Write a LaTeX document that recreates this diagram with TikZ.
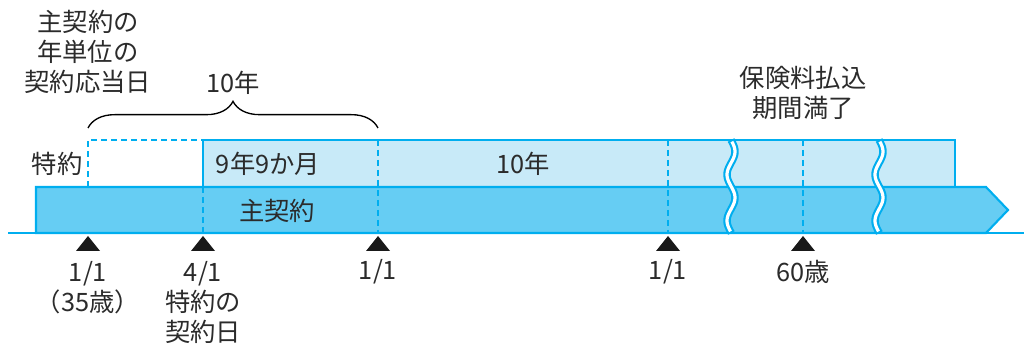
\documentclass[tikz,border=0pt]{standalone}
\usepackage{fontspec}
\setmainfont{Noto Sans CJK JP}
\usepackage{xcolor}
\usetikzlibrary{arrows.meta, positioning, shapes.geometric, decorations.pathreplacing}

\definecolor{lineblue}{HTML}{00AEEF}
\definecolor{mainfill}{HTML}{66CDF3}
\definecolor{riderfill}{HTML}{C8EAF8}
\definecolor{txt}{HTML}{2B2B2B}

\begin{document}
\begin{tikzpicture}[
    x=0.75pt, y=-0.75pt,
    every node/.style={font=\fontsize{19}{22.5}\selectfont, text=txt, inner sep=0pt, align=center},
    bar/.style={draw=lineblue, line width=1.6pt},
    guide/.style={draw=lineblue, line width=1.4pt, dash pattern=on 4.5pt off 3pt},
    tri/.style={fill=black!90}
  ]
    \useasboundingbox (0,0) rectangle (1026,345);

    % bars
    \draw[bar, fill=riderfill] (203,187) rectangle (955,140);
    \draw[bar, fill=mainfill] (36,233) -- (36,187) -- (986,187) -- (1008,210) -- (986,233) -- cycle;
    \draw[lineblue, line width=1.6pt] (8,233) -- (1024,233);

    % rider start (dashed)
    \draw[guide] (88,187) -- (88,140) -- (203,140);
    \draw[guide] (203,187) -- (203,233);
    \foreach \x in {378,668,803}
      \draw[guide] (\x,140) -- (\x,233);

    % breaks
    \foreach \bx in {731,879} {
      \draw[lineblue, line width=5.6pt] plot[variable=\t, domain=140:233, samples=50, smooth] ({\bx+4*sin((\t-140)*7.8)},\t);
      \draw[white, line width=2.4pt] plot[variable=\t, domain=141.6:231.4, samples=50, smooth] ({\bx+4*sin((\t-140)*7.8)},\t);
    }

    % time points
    \foreach \x/\n in {88/a,203/b,378/c,668/d,803/e} {
      \coordinate (t\n) at (\x,236);
      \fill[tri] (\x-12,251) -- (\x+12,251) -- (t\n) -- cycle;
    }

    % labels on bars
    \node (rider) at (57,164) {特約};
    \node (rpart) at (268,164) {9年9か月};
    \node (rfull) at (523,164) {10年};
    \node (main) at (277,211) {主契約};

    % labels above
    \node (anniv) at (88,52) {主契約の\\年単位の\\契約応当日};
    \node (ten) at (233,83) {10年};
    \node (endpay) at (803,93) {保険料払込\\期間満了};
    \draw[line width=1pt, decorate, decoration={brace, amplitude=20pt}] (88,128) -- (378,128);

    % labels below
    \node (da) at (88,288) {1/1\\（35歳）};
    \node (db) at (203,302) {4/1\\特約の\\契約日};
    \node (dc) at (378,272) {1/1};
    \node (dd) at (668,272) {1/1};
    \node (de) at (803,272) {60歳};
  \end{tikzpicture}
\end{document}
